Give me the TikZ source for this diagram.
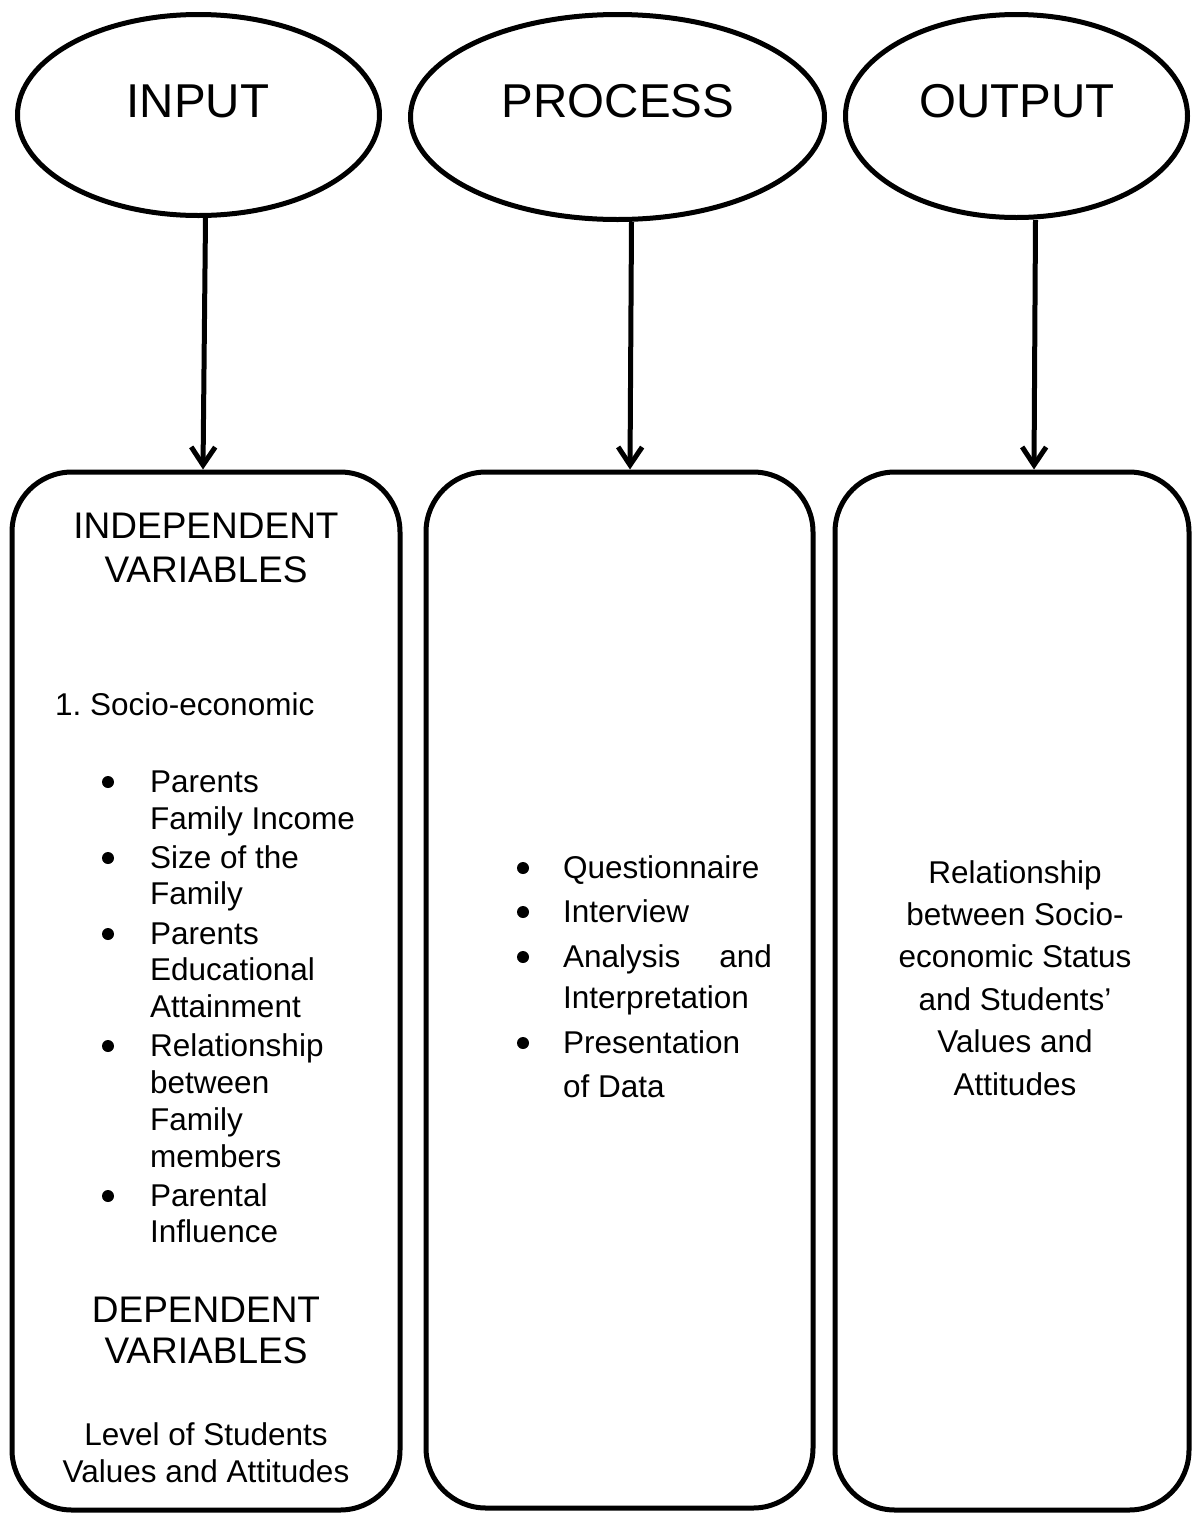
\documentclass[tikz,border=0pt]{standalone}
\usepackage{fontspec}
\setmainfont{Liberation Sans}
\usetikzlibrary{arrows.meta,shapes.geometric}
\begin{document}
\begin{tikzpicture}[x=1pt,y=-1pt,
  lw/.style={line width=5pt},
  oval/.style={draw,ellipse,lw,inner sep=0pt},
  panel/.style={draw,lw,rounded corners=60pt,inner sep=0pt},
  arr/.style={lw,-{Straight Barb[length=18pt,width=24pt]}},
  big/.style={inner sep=0pt,anchor=base,font=\fontsize{47.5}{56}\selectfont},
  head/.style={inner sep=0pt,anchor=base,font=\fontsize{37}{44}\selectfont},
  body/.style={inner sep=0pt,anchor=base west,font=\fontsize{31.5}{37}\selectfont},
  cbody/.style={inner sep=0pt,anchor=base,font=\fontsize{31.5}{37}\selectfont},
  dot/.style={circle,fill,inner sep=0pt,minimum size=12pt}]
\useasboundingbox (0,0) rectangle (1193,1513);

% top ellipses
\node[oval,minimum width=362pt,minimum height=201pt] (ein) at (198.5,115) {};
\node[oval,minimum width=414pt,minimum height=205pt] (epr) at (617.5,117) {};
\node[oval,minimum width=342pt,minimum height=203pt] (eout) at (1016.5,116) {};
\node[big] (tin) at (198,117) {INPUT};
\node[big] (tpr) at (618,117) {PROCESS};
\node[big] (tout) at (1017,117) {OUTPUT};

% panels
\node[panel,minimum width=388pt,minimum height=1038pt] (b1) at (206,991) {};
\node[panel,minimum width=387pt,minimum height=1036pt] (b2) at (619.5,990) {};
\node[panel,minimum width=354pt,minimum height=1038pt] (b3) at (1012,991) {};

% arrows
\draw[arr] ([xshift=7pt]ein.south) -- ([xshift=-3pt]b1.north);
\draw[arr] ([xshift=14pt]epr.south) -- ([xshift=10.5pt]b2.north);
\draw[arr] ([xshift=19pt]eout.south) -- ([xshift=22pt]b3.north);

% left panel
\node[head] (h1a) at (206,538) {INDEPENDENT};
\node[head] (h1b) at (206,582) {VARIABLES};
\node[body] (se) at (55,715) {1.\ Socio-economic};
\foreach \y/\t [count=\i] in {792/Parents, 829/Family Income, 868/Size of the, 904/Family,
  944/Parents, 980/Educational, 1017/Attainment, 1056/Relationship, 1093/between,
  1130/Family, 1167/members, 1206/Parental, 1242/Influence}
  \node[body] (l\i) at (150,\y) {\t};
\foreach \y [count=\i] in {792,868,944,1056,1206}
  \node[dot] (ld\i) at (108,\y-10) {};
\node[head] (h2a) at (206,1322) {DEPENDENT};
\node[head] (h2b) at (206,1363) {VARIABLES};
\node[cbody] (dv1) at (206,1445) {Level of Students};
\node[cbody] (dv2) at (206,1482) {Values and Attitudes};

% middle panel
\node[body] (p1) at (563,878) {Questionnaire};
\node[body] (p2) at (563,922) {Interview};
\node[body] (p3) at (563,967) {Analysis};
\node[inner sep=0pt,anchor=base east,font=\fontsize{31.5}{37}\selectfont] (p3b) at (772,967) {and};
\node[body] (p4) at (563,1008) {Interpretation};
\node[body] (p5) at (563,1053) {Presentation};
\node[body] (p6) at (563,1097) {of Data};
\foreach \y [count=\i] in {878,922,967,1053}
  \node[dot] (pd\i) at (523,\y-10) {};

% right panel
\foreach \y/\t [count=\i] in {883/Relationship, 925/between Socio-, 967/economic Status,
  1010/and Students’, 1052/Values and, 1095/Attitudes}
  \node[cbody] (o\i) at (1015,\y) {\t};
\end{tikzpicture}
\end{document}
